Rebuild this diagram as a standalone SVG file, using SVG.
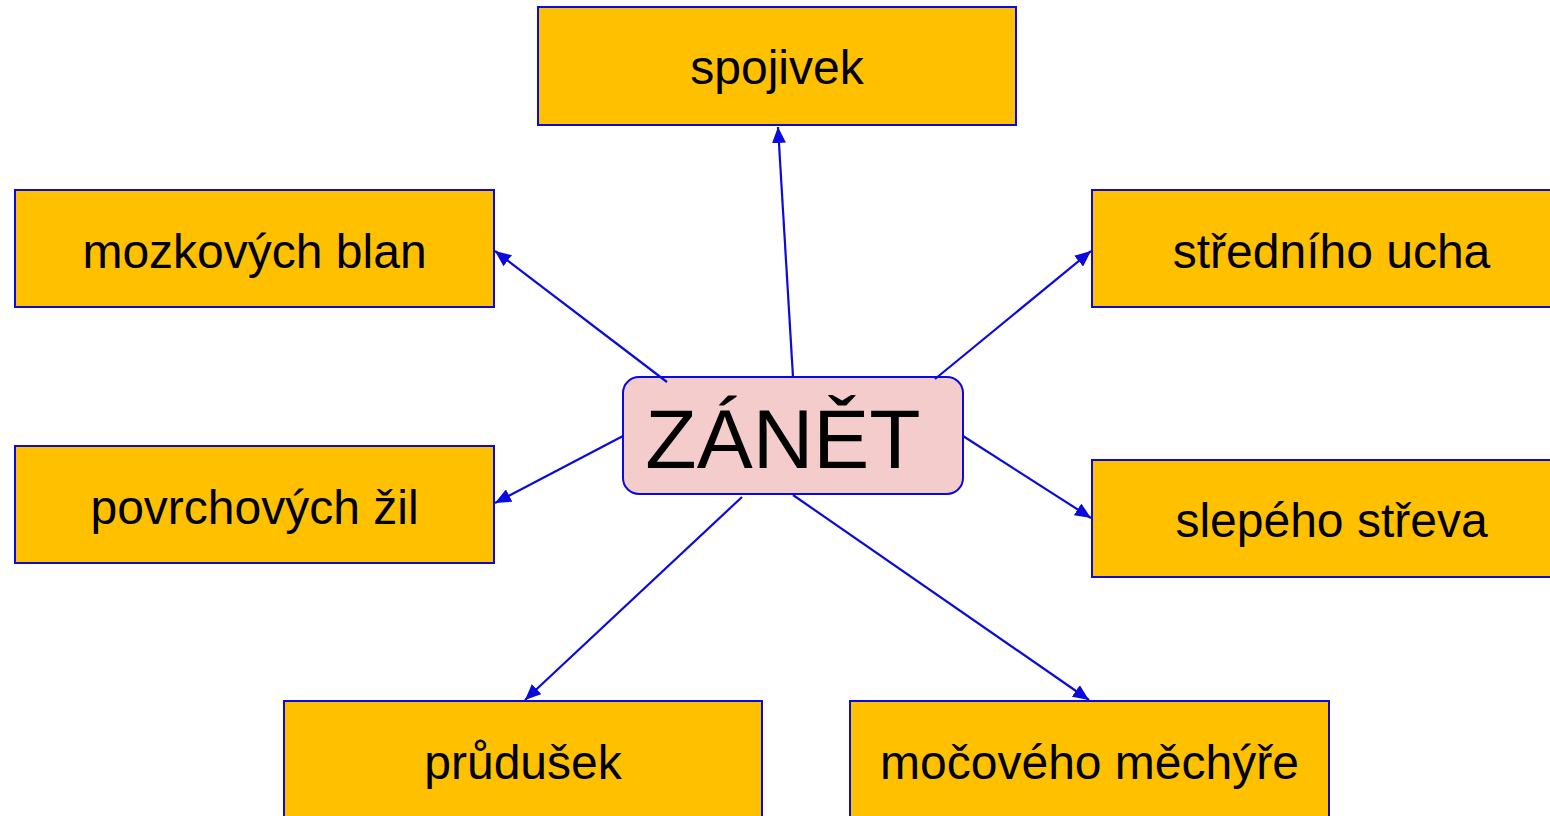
<svg xmlns="http://www.w3.org/2000/svg" width="1550" height="816" viewBox="0 0 1550 816">
<style>
.box{fill:#FFC000;stroke:#0A0ADC;stroke-width:2}
.center{fill:#F4CCCC;stroke:#0A0ADC;stroke-width:2}
.lbl{font-family:"Liberation Sans",Arial,sans-serif;font-size:48px;fill:#000;text-anchor:middle}
.big{font-family:"Liberation Sans",Arial,sans-serif;font-size:84px;fill:#000;text-anchor:middle}
.conn{stroke:#0A0ADC;stroke-width:2.2;fill:none;marker-end:url(#ah)}
</style>
<defs>
<marker id="ah" viewBox="0 0 16 14" refX="16" refY="7" markerWidth="16" markerHeight="14" markerUnits="userSpaceOnUse" orient="auto">
<path d="M0,0 L16,7 L0,14 z" fill="#0A0ADC"/>
</marker>
</defs>
<rect width="1550" height="816" fill="#fff"/>
<g id="n-spojivek"><rect class="box" x="538" y="7" width="478" height="118"/><text class="lbl" x="777" y="84">spojivek</text></g>
<g id="n-mozkovych"><rect class="box" x="15" y="190" width="479" height="117"/><text class="lbl" x="254.5" y="268">mozkových blan</text></g>
<g id="n-stredniho"><rect class="box" x="1092" y="190" width="479" height="117"/><text class="lbl" x="1331.5" y="268">středního ucha</text></g>
<g id="n-povrchovych"><rect class="box" x="15" y="446" width="479" height="117"/><text class="lbl" x="254.5" y="524">povrchových žil</text></g>
<g id="n-slepeho"><rect class="box" x="1092" y="460" width="479" height="117"/><text class="lbl" x="1331.5" y="537">slepého střeva</text></g>
<g id="n-prudusek"><rect class="box" x="284" y="701" width="478" height="130"/><text class="lbl" x="523" y="779">průdušek</text></g>
<g id="n-mocoveho"><rect class="box" x="850" y="701" width="479" height="130"/><text class="lbl" x="1089.5" y="779">močového měchýře</text></g>
<g id="n-zanet"><rect class="center" x="623" y="377" width="340" height="117" rx="16"/><text class="big" x="783" y="468">ZÁNĚT</text></g>
<g id="connectors">
<path class="conn" d="M793,377 L778,127"/>
<path class="conn" d="M667,382 L495,251"/>
<path class="conn" d="M935,379 L1091,251"/>
<path class="conn" d="M623,436 L495,503"/>
<path class="conn" d="M963,436 L1091,518"/>
<path class="conn" d="M742,497 L525,700"/>
<path class="conn" d="M793,495 L1089,700"/>
</g>
</svg>
